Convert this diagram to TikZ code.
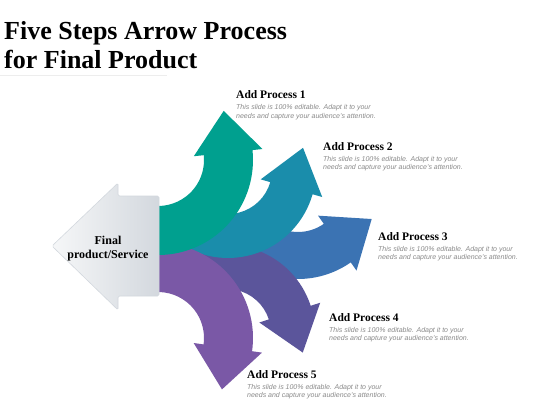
\documentclass[tikz,border=0pt]{standalone}
\usepackage{fontspec}
\setmainfont{Liberation Serif}
\setsansfont{Liberation Sans}
\usepackage{tikz}
\usetikzlibrary{calc,positioning}
\definecolor{stepone}{HTML}{00A08F}
\definecolor{steptwo}{HTML}{1A8DAB}
\definecolor{stepthree}{HTML}{3B73B3}
\definecolor{stepfour}{HTML}{5B559B}
\definecolor{stepfive}{HTML}{7A58A6}
\definecolor{hublight}{HTML}{F6F7F8}
\definecolor{hubdark}{HTML}{D3D8DE}
\definecolor{descgray}{HTML}{8A8A8A}
\definecolor{rulegray}{HTML}{EDEDED}

% bent arrow: colour, centre, inner r, outer r, start, end, tip direction
\newcommand{\bentarrow}[7]{%
 \fill[#1] ($(#2)+(#5:#4)$) arc[start angle=#5,end angle=#6,radius=#4]
  -- ($(#2)+(#6:{#4+10})$) -- ($(#2)+(#6:{(#3+#4)/2})+(#7:42)$)
  -- ($(#2)+(#6:{#3-10})$) -- ($(#2)+(#6:#3)$)
  arc[start angle=#6,end angle=#5,radius=#3] -- cycle;}

\begin{document}
\begin{tikzpicture}[x=1pt,y=-1pt,
 head/.style={font=\bfseries\fontsize{11.5}{13}\selectfont,inner sep=0pt,anchor=base west},
 desc/.style={font=\sffamily\itshape\fontsize{7}{8.5}\selectfont,text=descgray,align=left,inner sep=0pt}]
\useasboundingbox (0,0) rectangle (560,420);
\fill[white] (0,0) rectangle (560,420);

% title
\node[anchor=north west,align=left,inner sep=0pt,font=\bfseries\fontsize{26}{28.5}\selectfont] (title) at (4,21.5) {Five Steps Arrow Process\\for Final Product};
\draw[rulegray,line width=0.6pt] (0,75) -- (167,75);

% arrow centres
\coordinate (c1) at (158,160);
\coordinate (c2) at (228,170);
\coordinate (c3) at (298,187);
\coordinate (c4) at (227,333);
\coordinate (c5) at (158,338);

\bentarrow{stepthree}{c3}{45}{92}{125}{55}{-35}
\bentarrow{stepfour}{c4}{44}{88}{-130}{-18}{72}
\bentarrow{steptwo}{c2}{44}{88}{130}{16}{-74}
\bentarrow{stepfive}{c5}{46}{95}{-100}{8}{98}
\bentarrow{stepone}{c1}{46}{95}{100}{-6}{-96}

% final product arrow
\shade[left color=hublight,right color=hubdark,draw=hubdark,line width=0.6pt,rounded corners=1.5pt]
 (52,246) -- (118,183) -- (118,196) -- (159,196) -- (159,296) -- (118,296) -- (118,310) -- cycle;
\node[align=center,inner sep=0pt,font=\bfseries\fontsize{12}{13.5}\selectfont] (final) at (108,248.5) {Final\\product/Service};

% labels
\node[head] (h1) at (236,98.5) {Add Process 1};
\node[desc,below=6pt of h1.base west,anchor=north west] (d1) {This slide is 100\% editable. Adapt it to your\\needs and capture your audience’s attention.};
\node[head] (h2) at (323,150) {Add Process 2};
\node[desc,below=6pt of h2.base west,anchor=north west] (d2) {This slide is 100\% editable. Adapt it to your\\needs and capture your audience’s attention.};
\node[head] (h3) at (378,240) {Add Process 3};
\node[desc,below=6pt of h3.base west,anchor=north west] (d3) {This slide is 100\% editable. Adapt it to your\\needs and capture your audience’s attention.};
\node[head] (h4) at (329,321) {Add Process 4};
\node[desc,below=6pt of h4.base west,anchor=north west] (d4) {This slide is 100\% editable. Adapt it to your\\needs and capture your audience’s attention.};
\node[head] (h5) at (247,378) {Add Process 5};
\node[desc,below=6pt of h5.base west,anchor=north west] (d5) {This slide is 100\% editable. Adapt it to your\\needs and capture your audience’s attention.};
\end{tikzpicture}
\end{document}
